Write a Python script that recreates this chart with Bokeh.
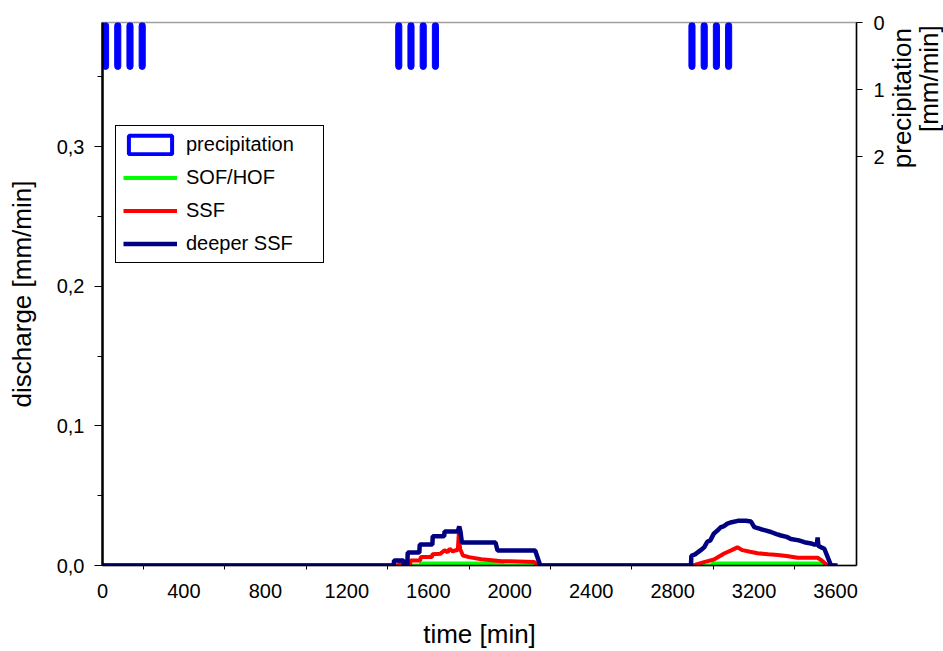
import math
from bokeh.plotting import figure
from bokeh.models import (Range1d, LinearAxis, FixedTicker, CustomJSTickFormatter,
                          Legend, LegendItem)
from bokeh.embed import file_html
from bokeh.resources import INLINE

# ---- data -------------------------------------------------------------
precip_time = [15, 75, 135, 195, 1455, 1515, 1575, 1635, 2895, 2955, 3015, 3075]
precip_rate = [0.7, 0.7, 0.7, 0.7, 0.7, 0.7, 0.7, 0.7, 0.7, 0.7, 0.7, 0.7]
precip_width = 30

sof_time = [0, 1560, 1565, 1960, 1970, 2990, 3000, 3530, 3540, 3600]
sof_val = [0, 0, 0.0015, 0.0015, 0, 0, 0.0015, 0.0015, 0, 0]

ssf_time = [0, 1455, 1460, 1465, 1510, 1513, 1560, 1563, 1618, 1620, 1660, 1680, 1695,
            1705, 1720, 1735, 1745, 1750, 1756, 1770, 1800, 1860, 1900, 1960, 2000,
            2120, 2140, 2900, 2954, 3003, 3053, 3090, 3118, 3143, 3180, 3217, 3270,
            3316, 3360, 3414, 3470, 3512, 3529, 3561, 3600]
ssf_val = [0, 0, 0.003, 0, 0, 0.0036, 0.0036, 0.006, 0.006, 0.008, 0.0085, 0.011, 0.0095,
           0.012, 0.010, 0.011, 0.011, 0.023, 0.012, 0.0072, 0.006, 0.0045, 0.004, 0.003,
           0.003, 0.0025, 0, 0, 0.0024, 0.0043, 0.0086, 0.011, 0.013, 0.011, 0.0098,
           0.0088, 0.008, 0.0076, 0.0068, 0.0055, 0.0055, 0.0055, 0.004, 0, 0]

deep_time = [0, 1430, 1432, 1478, 1480, 1497, 1499, 1556, 1558, 1620, 1622, 1678, 1680,
             1745, 1752, 1758, 1765, 1930, 1940, 2125, 2150, 2890, 2892, 2910, 2938,
             2955, 2970, 2985, 3003, 3020, 3036, 3050, 3069, 3090, 3120, 3160, 3185,
             3201, 3234, 3260, 3283, 3310, 3332, 3360, 3381, 3420, 3447, 3480, 3496,
             3508, 3512, 3516, 3530, 3545, 3578, 3610]
deep_val = [0, 0, 0.0036, 0.0036, 0, 0, 0.0093, 0.0093, 0.015, 0.015, 0.021, 0.021, 0.0244,
            0.0244, 0.028, 0.0244, 0.0165, 0.0165, 0.0107, 0.0107, 0, 0, 0.007, 0.008,
            0.011, 0.013, 0.017, 0.018, 0.023, 0.025, 0.0274, 0.028, 0.030, 0.031, 0.032,
            0.032, 0.0315, 0.0275, 0.026, 0.025, 0.024, 0.0225, 0.0215, 0.0205, 0.019,
            0.018, 0.0167, 0.0158, 0.015, 0.015, 0.020, 0.014, 0.013, 0.012, 0, 0]

x_major = [0, 400, 800, 1200, 1600, 2000, 2400, 2800, 3200, 3600]
x_minor = [200, 600, 1000, 1400, 1800, 2200, 2600, 3000, 3400]
y_major = [0, 0.1, 0.2, 0.3]
y_minor = [0.05, 0.15, 0.25, 0.35]
p_major = [0, 1, 2]

FONT = "Liberation Sans"
NB = "\u00a0"

# ---- figure -------------------------------------------------------------
p = figure(frame_width=754, frame_height=543, output_backend="svg",
           toolbar_location=None, x_range=Range1d(0, 3703), y_range=Range1d(0, 0.389),
           min_border_left=102, min_border_right=87, min_border_top=22,
           min_border_bottom=84)
p.background_fill_color = "white"
p.border_fill_color = "white"
p.outline_line_color = "#A0A0A0"
p.outline_line_width = 1.5
p.xgrid.visible = False
p.ygrid.visible = False

p.extra_y_ranges = {"precip": Range1d(start=8.1, end=0)}

# axes
xa = p.xaxis[0]
xa.ticker = FixedTicker(ticks=x_major, minor_ticks=x_minor)
xa.major_tick_out = 0
xa.major_tick_in = 0
xa.minor_tick_out = 4
xa.minor_tick_in = 0
xa.minor_tick_line_color = "black"
xa.axis_label = "time [min]"
xa.axis_label_text_font = FONT
xa.axis_label_text_font_size = "26px"
xa.axis_label_text_font_style = "normal"
xa.axis_label_text_color = "black"
xa.axis_label_standoff = 18
xa.major_label_text_font = FONT
xa.major_label_text_font_size = "20px"
xa.major_label_text_color = "black"
xa.major_label_standoff = 14
xa.axis_line_color = "black"
xa.axis_line_width = 1.5

ya = p.yaxis[0]
ya.ticker = FixedTicker(ticks=y_major, minor_ticks=y_minor)
ya.formatter = CustomJSTickFormatter(code="return tick.toFixed(1).replace('.', ',');")
ya.major_tick_out = 8
ya.major_tick_in = 0
ya.minor_tick_out = 5
ya.minor_tick_in = 0
ya.major_tick_line_color = "black"
ya.minor_tick_line_color = "black"
ya.axis_label = "discharge [mm/min]"
ya.axis_label_text_font = FONT
ya.axis_label_text_font_size = "26px"
ya.axis_label_text_font_style = "normal"
ya.axis_label_text_color = "black"
ya.axis_label_standoff = 17
ya.major_label_text_font = FONT
ya.major_label_text_font_size = "20px"
ya.major_label_text_color = "black"
ya.major_label_standoff = 10
ya.axis_line_color = "black"
ya.axis_line_width = 2.5

ra = LinearAxis(y_range_name="precip", ticker=FixedTicker(ticks=p_major))
ra.major_tick_out = 6
ra.major_tick_in = 0
ra.minor_tick_out = 0
ra.minor_tick_in = 0
ra.major_tick_line_color = "black"
ra.major_label_text_font = FONT
ra.major_label_text_font_size = "20px"
ra.major_label_text_color = "black"
ra.major_label_standoff = 11
ra.axis_line_color = "black"
ra.axis_line_width = 1.5
# title of the precipitation axis: two lines, reading upwards, ending at the top
ra.axis_label = NB * 55 + "precipitation" + "\n" + NB * 60 + "[mm/min]"
ra.axis_label_text_font = FONT
ra.axis_label_text_font_size = "26px"
ra.axis_label_text_font_style = "normal"
ra.axis_label_text_color = "black"
ra.axis_label_text_line_height = 0.92
ra.axis_label_standoff = 28
for name, val in [("axis_label_orientation", math.pi / 2),
                  ("axis_label_align", "end")]:
    try:
        setattr(ra, name, val)
    except Exception:
        pass
p.add_layout(ra, "right")

# precipitation bars
bars = p.vbar(x=precip_time, width=precip_width, top=0, bottom=precip_rate,
              y_range_name="precip", fill_color="#0000FF", line_color="#0000FF",
              line_width=1, border_radius=3)
# legend-only swatch (not drawn in the plot area: NaN coordinates)
leg_precip = p.quad(left=[math.nan], right=[math.nan], top=[math.nan], bottom=[math.nan],
                    fill_color="white", line_color="#0000FF", line_width=4)

# discharge lines
g = p.line(sof_time, sof_val, line_color="#00FF00", line_width=4)
r = p.line(ssf_time, ssf_val, line_color="#FF0000", line_width=4)
n = p.line(deep_time, deep_val, line_color="#000080", line_width=4.5)

legend = Legend(items=[
    LegendItem(label="precipitation", renderers=[leg_precip]),
    LegendItem(label="SOF/HOF", renderers=[g]),
    LegendItem(label="SSF", renderers=[r]),
    LegendItem(label="deeper SSF", renderers=[n]),
], location=(13, 302))
legend.label_text_font = FONT
legend.label_text_font_size = "20px"
legend.label_text_color = "black"
legend.glyph_width = 54
legend.glyph_height = 23
legend.label_height = 20
legend.label_width = 130
legend.label_standoff = 9
legend.spacing = 10
legend.padding = 7
legend.margin = 0
legend.border_line_color = "black"
legend.border_line_width = 1
legend.border_line_alpha = 1
legend.background_fill_color = "white"
legend.background_fill_alpha = 1
p.add_layout(legend, "center")

open("out.html", "w").write(file_html(p, INLINE))
